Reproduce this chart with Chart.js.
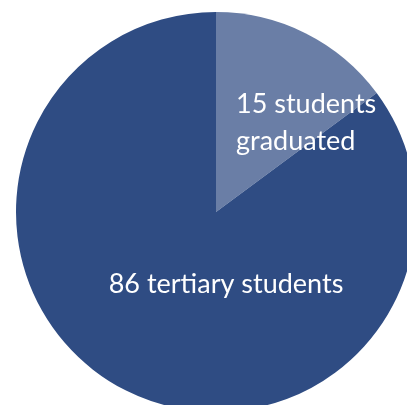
<!DOCTYPE html>
<html>
<head>
<meta charset="utf-8">
<script src="https://cdn.jsdelivr.net/npm/chart.js@4/dist/chart.umd.min.js"></script>
<style>
  html, body { margin: 0; padding: 0; overflow: hidden; background: #fff; }
  #wrap { position: absolute; left: 0; top: 0; width: 432px; height: 424px; }
</style>
</head>
<body>
<div id="wrap"><canvas id="myChart"></canvas></div>
<script>
var categories = ['graduated', 'tertiary'];
var values = [15, 86];
var labelLines = [['15 students', 'graduated'], ['86 tertiary students']];
var colors = ['#6a7ea6', '#2f4c83'];

// label anchor points, relative to pie centre in units of radius
var labelSpots = [
    { x: 0.10, y: -0.495, align: 'left' },
    { x: 0.05, y: 0.405, align: 'center' }
];

var sliceLabels = {
    id: 'sliceLabels',
    afterDatasetsDraw: function(chart) {
        var ctx = chart.ctx;
        var arc = chart.getDatasetMeta(0).data[0];
        var cx = arc.x, cy = arc.y, r = arc.outerRadius;
        ctx.save();
        ctx.fillStyle = '#ffffff';
        ctx.font = '27px Lato';
        ctx.textBaseline = 'alphabetic';
        labelLines.forEach(function(lines, i) {
            var spot = labelSpots[i];
            ctx.textAlign = spot.align;
            lines.forEach(function(line, j) {
                ctx.fillText(line, cx + spot.x * r, cy + spot.y * r + j * 37);
            });
        });
        ctx.restore();
    }
};

new Chart(document.getElementById('myChart'), {
    type: 'pie',
    data: {
        labels: categories,
        datasets: [{
            data: values,
            backgroundColor: colors,
            borderWidth: 0
        }]
    },
    options: {
        responsive: true,
        maintainAspectRatio: false,
        animation: false,
        layout: { padding: 12 },
        plugins: {
            legend: { display: false },
            tooltip: { enabled: false }
        }
    },
    plugins: [sliceLabels]
});
</script>
</body>
</html>
